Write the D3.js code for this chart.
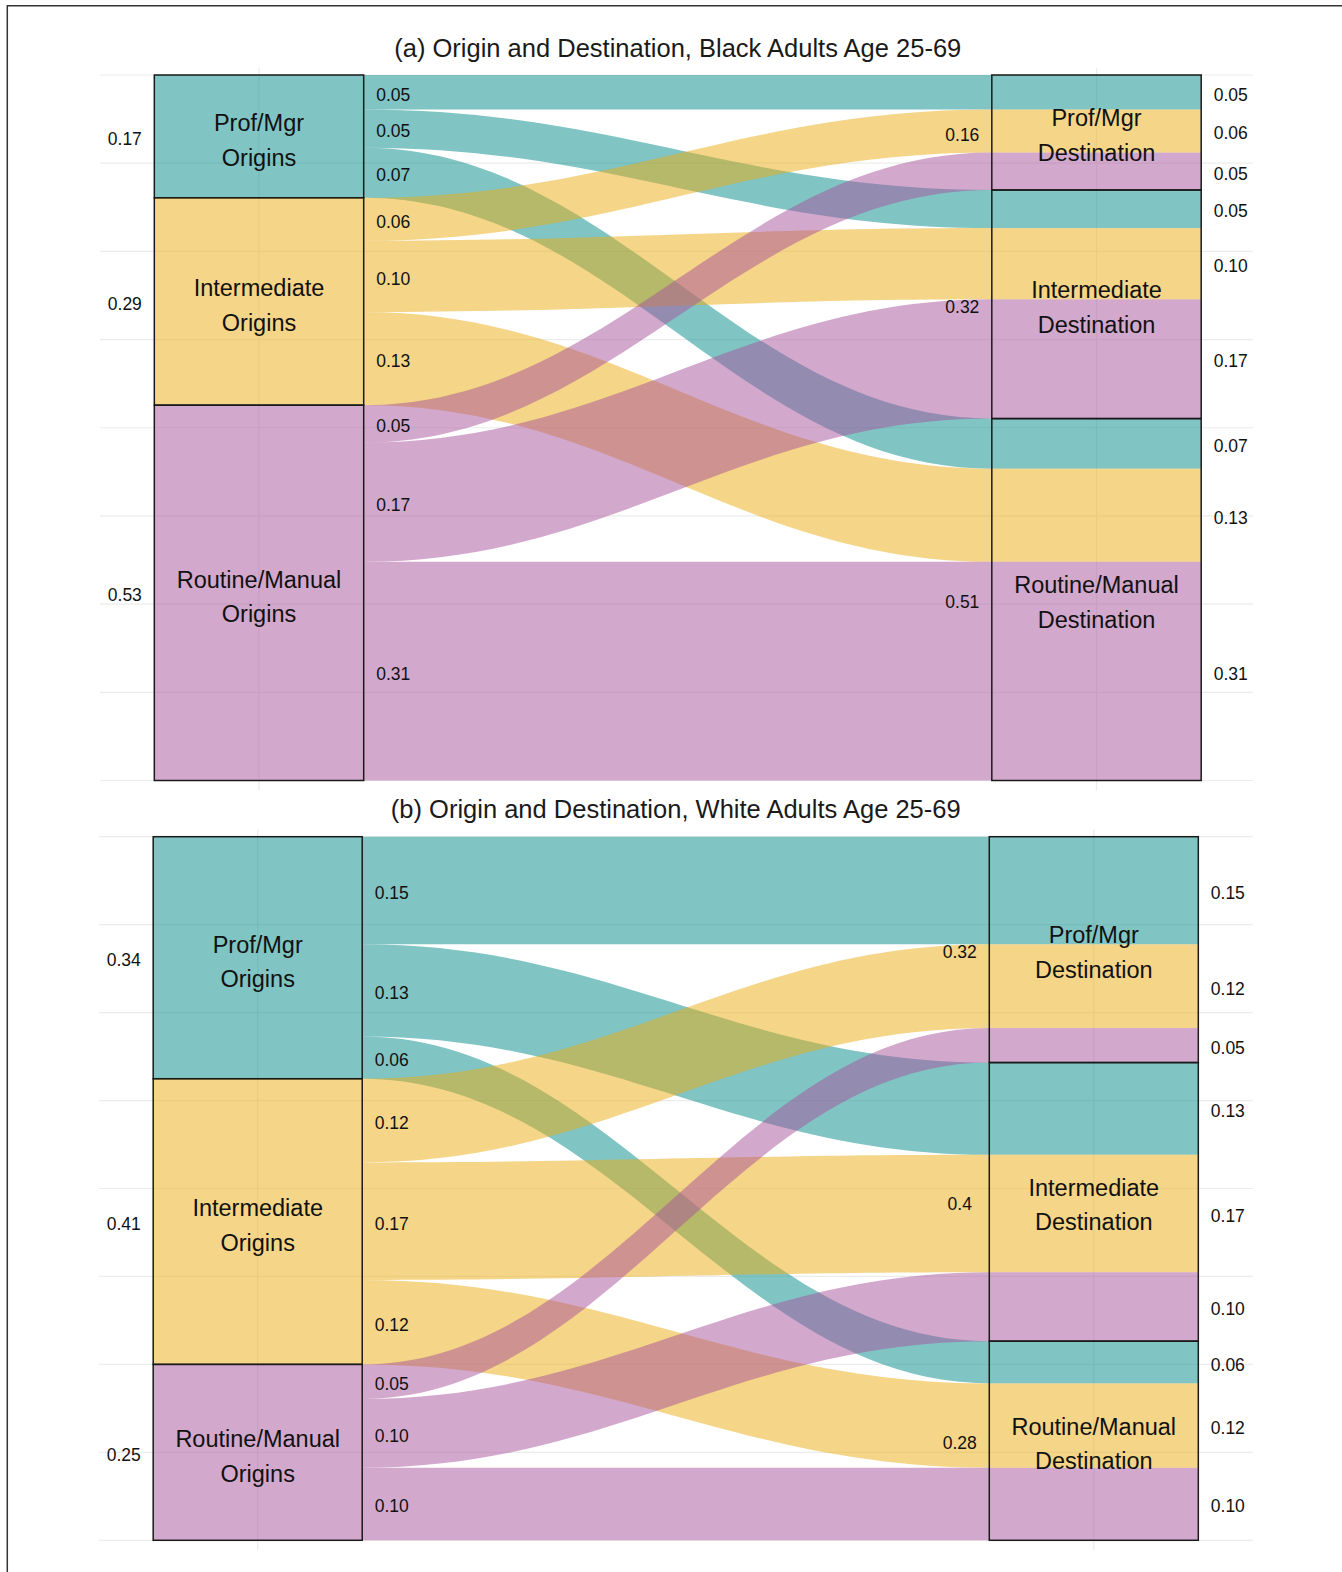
<!DOCTYPE html>
<html lang="en">
<head>
    <title>Origin and Destination</title>
    <meta charset="utf-8">
    <!-- Load d3.js -->
    <script src="https://d3js.org/d3.v7.min.js"></script>
    <style>
        body { margin: 0; background: #fff; }
        svg { display: block; font-family: "Liberation Sans", Arial, sans-serif; }
    </style>
</head>
<body>
<div id="chart"></div>
<script>
    // Classes, top to bottom in both columns
    const classes = ["Prof/Mgr", "Intermediate", "Routine/Manual"];
    // Base fills, drawn at half opacity like the original
    const classColors = ["#018a8a", "#ebab0f", "#a7519b"];

    // Shares of adults: rows = origin class, columns = destination class
    const blackFlows = [
        [0.049, 0.054, 0.071],
        [0.061, 0.101, 0.132],
        [0.053, 0.169, 0.310]
    ];
    const whiteFlows = [
        [0.153, 0.131, 0.060],
        [0.119, 0.167, 0.120],
        [0.049, 0.098, 0.103]
    ];

    const panelTitles = [
        "(a) Origin and Destination, Black Adults Age 25-69",
        "(b) Origin and Destination, White Adults Age 25-69"
    ];

    // y grid breaks (proportion scale)
    const yBreaks = [0, 0.125, 0.25, 0.375, 0.5, 0.625, 0.75, 0.875, 1];

    // Layout of the two stacked plots
    const panels = [
        {title: panelTitles[0], flows: blackFlows, top: 75, bottom: 780.5, xo: 259, xd: 1096.5, gridL: 100, gridR: 1253, titleY: 56.7},
        {title: panelTitles[1], flows: whiteFlows, top: 836.7, bottom: 1540.3, xo: 257.7, xd: 1093.8, gridL: 98.7, gridR: 1253, titleY: 817.7}
    ];

    const width = 1342, height = 1572;
    const boxWidth = 0.25;      // stratum width in x units
    const knot = 0.4;           // curve control point position along a flow
    const labelGap = 29.5;      // label centre distance from a box edge

    const fmtFlow = d3.format(".2f");
    const fmtTotal = d3.format(".2~f");

    const svg = d3.select("#chart")
        .append("svg")
        .attr("width", width)
        .attr("height", height);

    // Outer frame (left and top edges show in the picture)
    svg.append("path")
        .attr("d", `M7.3,${height}V5.7H${width}`)
        .attr("fill", "none")
        .attr("stroke", "#333")
        .attr("stroke-width", 1.5);

    panels.forEach(p => {
        const g = svg.append("g");

        const x = d3.scaleLinear().domain([1, 2]).range([p.xo, p.xd]);
        const y = d3.scaleLinear().domain([0, 1]).range([p.bottom, p.top]);
        const half = x(1 + boxWidth / 2) - x(1);

        const n = classes.length;
        const originTotals = p.flows.map(row => d3.sum(row));
        const destTotals = classes.map((c, j) => d3.sum(p.flows, row => row[j]));
        const total = d3.sum(originTotals);

        // cumulative starts from the top of the stack
        const originStart = originTotals.map((v, i) => d3.sum(originTotals.slice(0, i)));
        const destStart = destTotals.map((v, j) => d3.sum(destTotals.slice(0, j)));

        // one record per flow, with its position at both ends
        const links = [];
        for (let i = 0; i < n; i++) {
            for (let j = 0; j < n; j++) {
                const v = p.flows[i][j];
                const o0 = originStart[i] + d3.sum(p.flows[i].slice(0, j));
                const d0 = destStart[j] + d3.sum(p.flows.slice(0, i), row => row[j]);
                links.push({origin: i, dest: j, value: v, o0: o0, o1: o0 + v, d0: d0, d1: d0 + v});
            }
        }
        const yy = v => y(total - v);

        // Title
        g.append("text")
            .attr("x", (p.xo + p.xd) / 2)
            .attr("y", p.titleY)
            .attr("text-anchor", "middle")
            .attr("font-size", "25.5px")
            .attr("fill", "#1a1a1a")
            .text(p.title);

        // Grid lines
        g.selectAll(".hgrid")
            .data(yBreaks)
            .join("line")
            .attr("x1", p.gridL)
            .attr("x2", p.gridR)
            .attr("y1", d => y(d))
            .attr("y2", d => y(d))
            .attr("stroke", "#ececec")
            .attr("stroke-width", 1.2);
        g.selectAll(".vgrid")
            .data([1, 2])
            .join("line")
            .attr("x1", d => x(d))
            .attr("x2", d => x(d))
            .attr("y1", y(1) - 7)
            .attr("y2", y(0) + 10)
            .attr("stroke", "#ececec")
            .attr("stroke-width", 1.2);

        // Flows
        const xa = x(1) + half, xb = x(2) - half;
        const c1 = xa + knot * (xb - xa), c2 = xb - knot * (xb - xa);
        const flowPath = d => {
            const ya0 = yy(d.o0), ya1 = yy(d.o1), yb0 = yy(d.d0), yb1 = yy(d.d1);
            return `M${xa},${ya0}C${c1},${ya0} ${c2},${yb0} ${xb},${yb0}` +
                `L${xb},${yb1}C${c2},${yb1} ${c1},${ya1} ${xa},${ya1}Z`;
        };
        g.selectAll(".flow")
            .data(links)
            .join("path")
            .attr("d", flowPath)
            .attr("fill", d => classColors[d.origin])
            .attr("fill-opacity", 0.5);

        // Origin strata
        g.selectAll(".ostrat")
            .data(classes)
            .join("rect")
            .attr("x", x(1) - half)
            .attr("width", 2 * half)
            .attr("y", (c, i) => yy(originStart[i]))
            .attr("height", (c, i) => yy(originStart[i] + originTotals[i]) - yy(originStart[i]))
            .attr("fill", (c, i) => classColors[i])
            .attr("fill-opacity", 0.5)
            .attr("stroke", "#1a1a1a")
            .attr("stroke-width", 1.5);

        // Destination lodes, coloured by origin
        g.selectAll(".dlode")
            .data(links)
            .join("rect")
            .attr("x", x(2) - half)
            .attr("width", 2 * half)
            .attr("y", d => yy(d.d0))
            .attr("height", d => yy(d.d1) - yy(d.d0))
            .attr("fill", d => classColors[d.origin])
            .attr("fill-opacity", 0.5);

        // Destination strata outlines
        g.selectAll(".dstrat")
            .data(classes)
            .join("rect")
            .attr("x", x(2) - half)
            .attr("width", 2 * half)
            .attr("y", (c, j) => yy(destStart[j]))
            .attr("height", (c, j) => yy(destStart[j] + destTotals[j]) - yy(destStart[j]))
            .attr("fill", "none")
            .attr("stroke", "#1a1a1a")
            .attr("stroke-width", 1.5);

        // Stratum names (two lines)
        const boxLabel = (cx, mid, lines) => {
            const t = g.append("text")
                .attr("text-anchor", "middle")
                .attr("font-size", "23.5px")
                .attr("fill", "#111");
            t.append("tspan").attr("x", cx).attr("y", mid - 6.2).text(lines[0]);
            t.append("tspan").attr("x", cx).attr("y", mid + 28.4).text(lines[1]);
        };
        classes.forEach((c, i) => {
            boxLabel(x(1), yy(originStart[i] + originTotals[i] / 2) + 1, [c, "Origins"]);
            boxLabel(x(2), yy(destStart[i] + destTotals[i] / 2), [c, "Destination"]);
        });

        // Value labels
        const small = (cx, cy, str) => g.append("text")
            .attr("x", cx)
            .attr("y", cy)
            .attr("dy", "0.48em")
            .attr("text-anchor", "middle")
            .attr("font-size", "17.5px")
            .attr("fill", "#111")
            .text(str);

        originTotals.forEach((v, i) => small(x(1) - half - labelGap, yy(originStart[i] + v / 2), fmtTotal(v)));
        destTotals.forEach((v, j) => small(x(2) - half - labelGap, yy(destStart[j] + v / 2), fmtTotal(v)));
        links.forEach(d => {
            small(x(1) + half + labelGap, yy((d.o0 + d.o1) / 2), fmtFlow(d.value));
            small(x(2) + half + labelGap, yy((d.d0 + d.d1) / 2), fmtFlow(d.value));
        });
    });
</script>
</body>
</html>
